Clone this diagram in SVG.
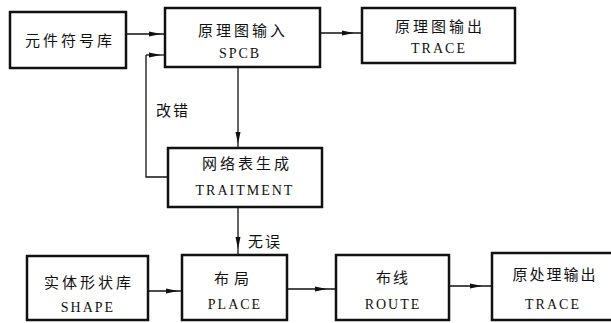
<svg xmlns="http://www.w3.org/2000/svg" width="611" height="323" viewBox="0 0 611 323">
<style>
.box{fill:#fff;stroke:#111;stroke-width:2.5}
.cn{font-family:"Noto Sans CJK SC","Noto Sans",sans-serif;font-size:15px;fill:#111;text-anchor:middle;letter-spacing:3px}
.en{font-family:"Liberation Serif","Times New Roman",serif;font-size:14px;fill:#111;text-anchor:middle;letter-spacing:2px}
.lbl{font-family:"Noto Sans CJK SC","Noto Sans",sans-serif;font-size:15px;fill:#111;letter-spacing:2px}
.c{fill:none;stroke:#111;stroke-width:1.3}
</style>
<defs>
<marker id="ah" markerUnits="userSpaceOnUse" markerWidth="14" markerHeight="8" refX="12" refY="4" orient="auto">
<path d="M0,1.5 L12,4 L0,6.5 Z" fill="#111"/>
</marker>
</defs>
<g id="connectors">
<path class="c" d="M126,34 L161,34 L165,34" marker-mid="url(#ah)"/>
<path class="c" d="M320,33 L354,33 L362,33" marker-mid="url(#ah)"/>
<path class="c" d="M168,177 L146,177 L146,55"/>
<path class="c" d="M146,55 L161,55 L165,55" marker-mid="url(#ah)"/>
<path class="c" d="M238,67 L238,144 L238,148" marker-mid="url(#ah)"/>
<path class="c" d="M238,207 L238,249 L238,255" marker-mid="url(#ah)"/>
<path class="c" d="M148,291 L178,291 L182,291" marker-mid="url(#ah)"/>
<path class="c" d="M287,289 L327,289 L336,289" marker-mid="url(#ah)"/>
<path class="c" d="M449,286 L482,286 L491,286" marker-mid="url(#ah)"/>
<text class="lbl" x="156" y="116">改错</text>
<text class="lbl" x="248" y="247">无误</text>
</g>
<g id="n1">
<rect class="box" x="10" y="12" width="116" height="56"/>
<text class="cn" x="70" y="46">元件符号库</text>
</g>
<g id="n2">
<rect class="box" x="165" y="8" width="155" height="59"/>
<text class="cn" x="243" y="36">原理图输入</text>
<text class="en" x="240" y="58">SPCB</text>
</g>
<g id="n3">
<rect class="box" x="362" y="8" width="153" height="55"/>
<text class="cn" x="440" y="32">原理图输出</text>
<text class="en" x="439" y="53">TRACE</text>
</g>
<g id="n4">
<rect class="box" x="168" y="148" width="154" height="59"/>
<text class="cn" x="247" y="169">网络表生成</text>
<text class="en" x="245" y="195">TRAITMENT</text>
</g>
<g id="n5">
<rect class="box" x="27" y="256" width="121" height="64"/>
<text class="cn" x="89" y="288">实体形状库</text>
<text class="en" x="88" y="312">SHAPE</text>
</g>
<g id="n6">
<rect class="box" x="182" y="255" width="105" height="65"/>
<text class="cn" x="234" y="284" style="letter-spacing:5px">布局</text>
<text class="en" x="235" y="309">PLACE</text>
</g>
<g id="n7">
<rect class="box" x="336" y="255" width="113" height="65"/>
<text class="cn" x="393" y="283" style="letter-spacing:2px">布线</text>
<text class="en" x="393" y="309">ROUTE</text>
</g>
<g id="n8">
<rect class="box" x="492" y="253" width="122" height="67"/>
<text class="cn" x="555" y="280" style="letter-spacing:2px">原处理输出</text>
<text class="en" x="553" y="309">TRACE</text>
</g>
</svg>
